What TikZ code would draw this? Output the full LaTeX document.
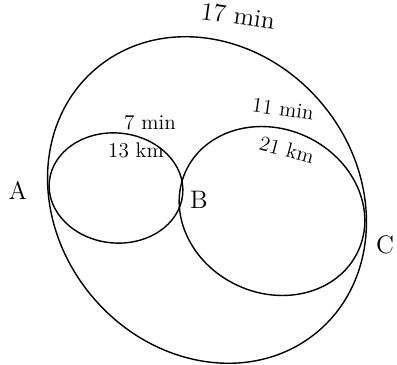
\documentclass[tikz,border=0pt]{standalone}
\usepackage{tikz}
\usetikzlibrary{positioning}

\begin{document}
\begin{tikzpicture}[thick, x=0.02cm, y=-0.02cm, every node/.style={font=\large}]
    \useasboundingbox (0, 0) rectangle (397, 365);
    % -------------------------
    % Towns
    % -------------------------
    \coordinate (A) at (49, 181);
    \coordinate (B) at (182, 196);
    \coordinate (C) at (363, 233);
    \node[font=\Large] (labA) at (18, 190) {A};
    \node[font=\Large] (labB) at (199, 200) {B};
    \node[font=\Large] (labC) at (385, 245) {C};

    % -------------------------
    % Outer road (A to C)
    % -------------------------
    \coordinate (outerc) at (207, 200);
    \draw[rotate around={-50:(outerc)}] (outerc) ellipse [x radius=172, y radius=150];

    % -------------------------
    % Small road (A to B)
    % -------------------------
    \coordinate (smallc) at (116, 188);
    \draw[rotate around={-5.6:(smallc)}] (smallc) ellipse [x radius=67, y radius=55];

    % -------------------------
    % Middle road (B to C)
    % -------------------------
    \coordinate (midc) at (272, 211);
    \draw[rotate around={-25:(midc)}] (midc) ellipse [x radius=95, y radius=82];

    % -------------------------
    % Times and distances
    % -------------------------
    \node[font=\Large, rotate=-8] (outer) at (238, 16) {17 min};
    \node (smalltime) at (150, 123) {7 min};
    \node (smalldist) at (136, 150) {13 km};
    \node[rotate=-8] (midtime) at (283, 109) {11 min};
    \node[rotate=-15] (middist) at (287, 150) {21 km};
\end{tikzpicture}
\end{document}
